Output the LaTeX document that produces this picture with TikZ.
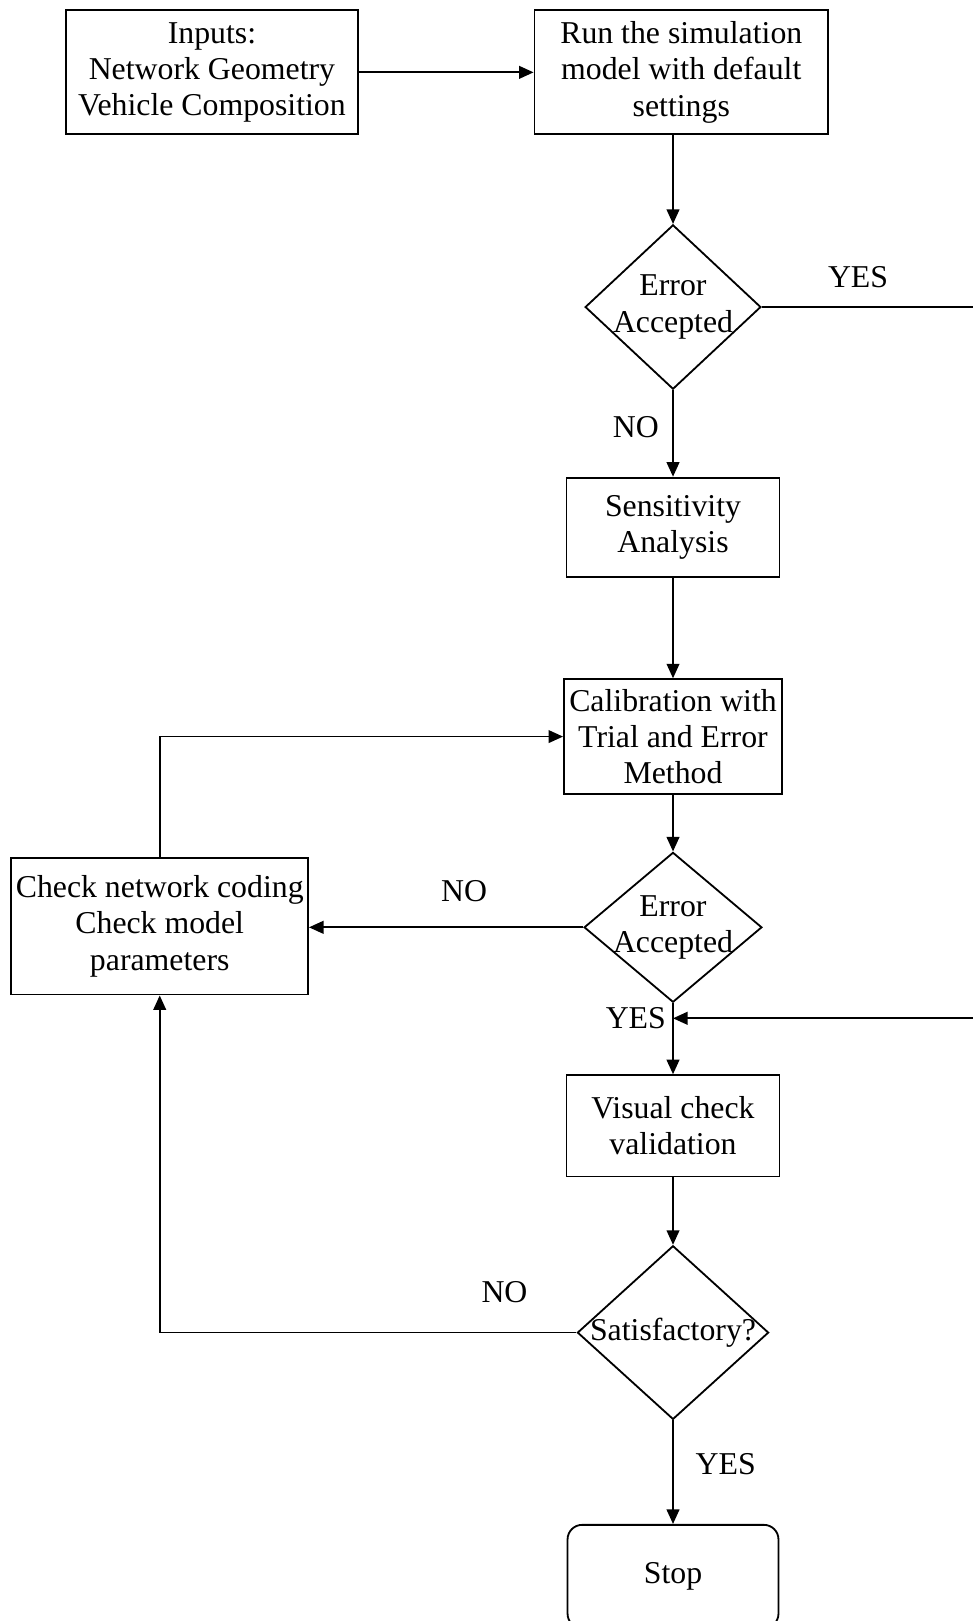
\documentclass[tikz,border=0pt]{standalone}
\usepackage{fontspec}
\setmainfont{Liberation Serif}
\usetikzlibrary{positioning,arrows.meta,shapes.geometric}

\begin{document}
\begin{tikzpicture}[
  font=\fontsize{17.5}{20}\selectfont,
  box/.style={rectangle,draw,line width=1pt,align=center,inner sep=2pt},
  decision/.style={diamond,draw,line width=1pt,inner sep=0pt},
  dtext/.style={align=center,inner sep=0pt},
  arr/.style={-{Triangle[width=7pt,length=8pt]},line width=1pt},
  ln/.style={line width=1pt}]
\useasboundingbox (0,0) rectangle (18.82,-31.36);

% boxes
\node[box,minimum width=5.64cm,minimum height=2.4cm] (inp) at (4.10,-1.40)
  {Inputs:\\Network Geometry\\Vehicle Composition};
\node[box,minimum width=5.68cm,minimum height=2.4cm] (run) at (13.18,-1.40)
  {Run the simulation\\model with default\\settings};
\node[decision,minimum width=3.4cm,minimum height=3.18cm,
      label={[dtext]center:Error\\Accepted}] (dec1) at (13.02,-5.94) {};
\node[box,minimum width=4.12cm,minimum height=1.92cm] (sens) at (13.02,-10.2)
  {Sensitivity\\Analysis};
\node[box,minimum width=4.22cm,minimum height=2.22cm] (calib) at (13.02,-14.25)
  {Calibration with\\Trial and Error\\Method};
\node[decision,minimum width=3.44cm,minimum height=2.9cm,
      label={[dtext]center:Error\\Accepted}] (dec2) at (13.02,-17.94) {};
\node[box,minimum width=5.74cm,minimum height=2.64cm] (check) at (3.09,-17.92)
  {Check network coding\\Check model\\parameters};
\node[box,minimum width=4.12cm,minimum height=1.96cm] (vis) at (13.02,-21.78)
  {Visual check\\validation};
\node[decision,minimum width=3.7cm,minimum height=3.36cm,
      label={[dtext]center:Satisfactory?}] (dec3) at (13.02,-25.78) {};
\node[box,rounded corners=8pt,minimum width=4.08cm,minimum height=2.0cm] (stop) at (13.02,-30.5)
  {Stop};

% free ends at the right border
\coordinate (redge1) at (18.82,-5.94);
\coordinate (redge2) at (18.82,-19.7);

% labels
\node (yes1) at (16.6,-5.36) {YES};
\node (no1) at (12.3,-8.26) {NO};
\node (no2) at (8.98,-17.24) {NO};
\node (yes2) at (12.3,-19.7) {YES};
\node (no3) at (9.76,-25.0) {NO};
\node (yes3) at (14.04,-28.32) {YES};

% connectors
\draw[arr] (inp.east) -- (run.west);
\draw[arr] (run.south -| dec1.north) -- (dec1.north);
\draw[ln] (dec1.east) -- (redge1);
\draw[arr] (dec1.south) -- (sens.north);
\draw[arr] (sens) -- (calib);
\draw[arr] (calib) -- (dec2);
\draw[arr] (dec2.west) -- (dec2.west -| check.east);
\draw[arr] (check.north) |- (calib.west);
\draw[arr] (dec2.south) -- (vis.north);
\draw[arr] (redge2) -- (redge2 -| dec2.south);
\draw[arr] (vis) -- (dec3);
\draw[arr] (dec3.west) -| (check.south);
\draw[arr] (dec3.south) -- (stop.north);
\end{tikzpicture}
\end{document}
